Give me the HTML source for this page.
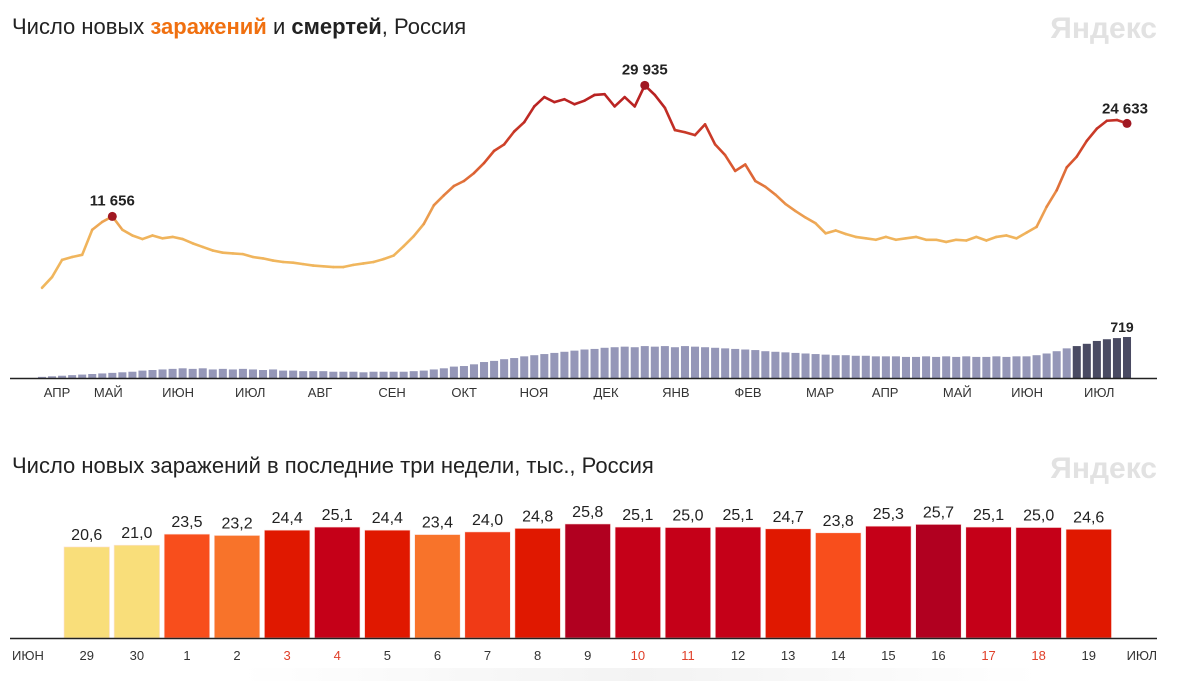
<!DOCTYPE html>
<html><head><meta charset="utf-8">
<style>
html,body{margin:0;padding:0;background:#fff;}
body{width:1181px;height:681px;overflow:hidden;position:relative;font-family:"Liberation Sans","Noto Sans CJK SC",sans-serif;}
svg text{font-family:"Liberation Sans","Noto Sans CJK SC",sans-serif;}
</style></head>
<body>
<svg id="chart" width="1181" height="681" viewBox="0 0 1181 681" xmlns="http://www.w3.org/2000/svg">
  <defs>
    <linearGradient id="fade" x1="0" y1="0" x2="1" y2="0">
      <stop offset="0" stop-color="#fff"/><stop offset="0.5" stop-color="#f3f3f3"/><stop offset="1" stop-color="#fff"/>
    </linearGradient>
  </defs>
  <rect x="240" y="668" width="800" height="13" fill="url(#fade)"/>
  <text x="12" y="34" font-size="22" fill="#222">Число новых <tspan fill="#f07010" font-weight="bold">заражений</tspan> и <tspan font-weight="bold">смертей</tspan>, Россия</text>
  <text x="1157" y="38" font-size="30" font-weight="bold" fill="#e2e2e2" text-anchor="end">Яндекс</text>
  <text x="12" y="473" font-size="22" fill="#222">Число новых заражений в последние три недели, тыс., Россия</text>
  <text x="1157" y="478" font-size="30" font-weight="bold" fill="#e2e2e2" text-anchor="end">Яндекс</text>
  <g id="topchart"></g>
  <g id="bottomchart"></g>
</svg>
<script>
// ---- top chart data (thousands of cases, deaths) ----
const cases = [1.7,3.2,5.6,6.0,6.3,9.8,10.9,11.656,9.8,9.0,8.5,9.0,8.6,8.8,8.5,7.9,7.4,6.9,6.6,6.5,6.4,6.0,5.8,5.5,5.3,5.2,5.0,4.8,4.7,4.6,4.6,4.9,5.1,5.3,5.7,6.2,7.5,8.9,10.6,13.2,14.6,15.9,16.6,17.7,19.1,20.8,21.7,23.5,24.8,27.0,28.3,27.6,28.0,27.3,27.8,28.6,28.7,27.0,28.3,27.0,29.935,28.6,26.8,23.7,23.4,23.0,24.5,21.7,20.2,18.0,18.9,16.6,15.8,14.7,13.4,12.4,11.5,10.7,9.3,9.7,9.2,8.8,8.6,8.4,8.8,8.4,8.6,8.8,8.4,8.4,8.1,8.4,8.3,8.8,8.3,8.8,9.0,8.6,9.4,10.2,13.0,15.3,18.5,20.0,22.2,23.9,25.0,25.1,24.633];
const deaths = [20,30,40,50,60,70,80,90,100,110,130,140,150,160,170,160,170,150,160,150,160,150,140,150,130,130,120,120,120,110,110,110,100,110,110,110,110,120,130,150,170,200,210,240,280,300,330,350,380,400,420,440,460,480,500,510,530,540,550,540,560,550,560,540,560,550,540,530,520,510,500,490,470,460,450,440,430,420,410,400,400,390,390,380,380,380,370,370,380,370,380,370,380,370,370,380,370,380,380,400,430,470,520,560,600,650,680,700,719];
const monthLabels = ["АПР","МАЙ","ИЮН","ИЮЛ","АВГ","СЕН","ОКТ","НОЯ","ДЕК","ЯНВ","ФЕВ","МАР","АПР","МАЙ","ИЮН","ИЮЛ"];
const monthDays = [31,30,31,30,31,31,30,31,30,31,31,28,31,30,31,30];
const peakLabels = ["11 656","29 935","24 633"];
const deathLabel = "719";

// ---- bottom chart data ----
const days = ["29","30","1","2","3","4","5","6","7","8","9","10","11","12","13","14","15","16","17","18","19"];
const weekend = [false,false,false,false,true,true,false,false,false,false,false,true,true,false,false,false,false,false,true,true,false];
const weekly = [20.6,21.0,23.5,23.2,24.4,25.1,24.4,23.4,24.0,24.8,25.8,25.1,25.0,25.1,24.7,23.8,25.3,25.7,25.1,25.0,24.6];
const valueLabels = ["20,6","21,0","23,5","23,2","24,4","25,1","24,4","23,4","24,0","24,8","25,8","25,1","25,0","25,1","24,7","23,8","25,3","25,7","25,1","25,0","24,6"];

const NS="http://www.w3.org/2000/svg";
function mk(tag,attrs,parent){const e=document.createElementNS(NS,tag);for(const k in attrs)e.setAttribute(k,attrs[k]);parent.appendChild(e);return e;}

const X0=42,X1=1127;
const xTop=i=>X0+(X1-X0)*i/(cases.length-1);
const xDeath=i=>X0+(X1-X0)*i/(deaths.length-1);
const yCase=v=>300-v*7.17;
const yDeath=d=>378-d*0.057;
function lerp(a,b,t){return a.map((c,i)=>Math.round(c+(b[i]-c)*t));}
function caseColor(v){
  const stops=[[0,[240,184,94]],[9,[240,180,92]],[14,[232,140,70]],[20,[214,78,44]],[26,[190,40,36]],[31,[178,28,32]]];
  for(let i=0;i<stops.length-1;i++){if(v<=stops[i+1][0]){const t=(v-stops[i][0])/(stops[i+1][0]-stops[i][0]);const c=lerp(stops[i][1],stops[i+1][1],Math.max(0,t));return `rgb(${c})`;}}
  return "rgb(178,28,32)";
}
const topG=document.getElementById('topchart');
const dw=(X1-X0)/(deaths.length-1);
deaths.forEach((d,i)=>{
  const r=mk('rect',{x:xDeath(i)-dw*0.4,y:yDeath(d),width:dw*0.8,height:378-yDeath(d),fill:i>=deaths.length-6?'#4a4b63':'#9597b8'},topG);
  
  
});
const dl=mk('text',{x:xDeath(deaths.length-1)-5,y:yDeath(deaths[deaths.length-1])-5,'font-size':14,'font-weight':'bold',fill:'#222','text-anchor':'middle'},topG);
dl.textContent=deathLabel;


const ax=mk('line',{x1:10,y1:378.5,x2:1157,y2:378.5,stroke:'#222','stroke-width':1.5},topG);


const dayPx=2.326; let mx=106-30*dayPx;
monthLabels.forEach((m,i)=>{
  const t=mk('text',{x:i===0?57:mx,y:397,'font-size':13,fill:'#333','text-anchor':'middle'},topG);
  t.textContent=m;
  
  
  mx+=monthDays[i]*dayPx;
});
for(let i=0;i<cases.length-1;i++){
  const s=mk('line',{x1:xTop(i),y1:yCase(cases[i]),x2:xTop(i+1),y2:yCase(cases[i+1]),stroke:caseColor((cases[i]+cases[i+1])/2),'stroke-width':2.6,'stroke-linecap':'round'},topG);
  
  
}
const peaks=[cases.indexOf(11.656),cases.indexOf(29.935),cases.length-1];
peaks.forEach((pi,k)=>{
  const c=mk('circle',{cx:xTop(pi),cy:yCase(cases[pi]),r:4.5,fill:'#a01822'},topG);
  
  
  const t=mk('text',{x:k===2?xTop(pi)-2:xTop(pi),y:yCase(cases[pi])-(k===2?10:11),'font-size':15,'font-weight':'bold',fill:'#222','text-anchor':'middle'},topG);
  t.textContent=peakLabels[k];
  
  
});

const bot=document.getElementById('bottomchart');
const BX0=64, BSTEP=50.1, BW=45.5, BASE=638;
const xBar=i=>BX0+i*BSTEP;
const hBar=v=>v*4.42;
function barColor(v){
  if(v<22) return '#f9de7a';
  if(v<23.45) return '#f8732a';
  if(v<23.9) return '#f84e1c';
  if(v<24.3) return '#f03a16';
  if(v<24.95) return '#e01800';
  if(v<25.5) return '#c50018';
  return '#b10020';
}
weekly.forEach((v,i)=>{
  const r=mk('rect',{x:xBar(i),y:BASE-hBar(v),width:BW,height:hBar(v),fill:barColor(v),stroke:'#fbe0dc','stroke-width':0.6},bot);
  
  
  const t=mk('text',{x:xBar(i)+BW/2,y:BASE-hBar(v)-7,'font-size':16,fill:'#222','text-anchor':'middle'},bot);
  t.textContent=valueLabels[i];
  
  
  const d=mk('text',{x:xBar(i)+BW/2,y:660,'font-size':13,fill:weekend[i]?'#e0402a':'#333','text-anchor':'middle'},bot);
  d.textContent=days[i];
  
  
});
const bax=mk('line',{x1:10,y1:638.5,x2:1157,y2:638.5,stroke:'#222','stroke-width':1.5},bot);


const jun=mk('text',{x:12,y:660,'font-size':13,fill:'#333'},bot);
jun.textContent="ИЮН";


const jul=mk('text',{x:1157,y:660,'font-size':13,fill:'#333','text-anchor':'end'},bot);
jul.textContent="ИЮЛ";


</script>
</body></html>
